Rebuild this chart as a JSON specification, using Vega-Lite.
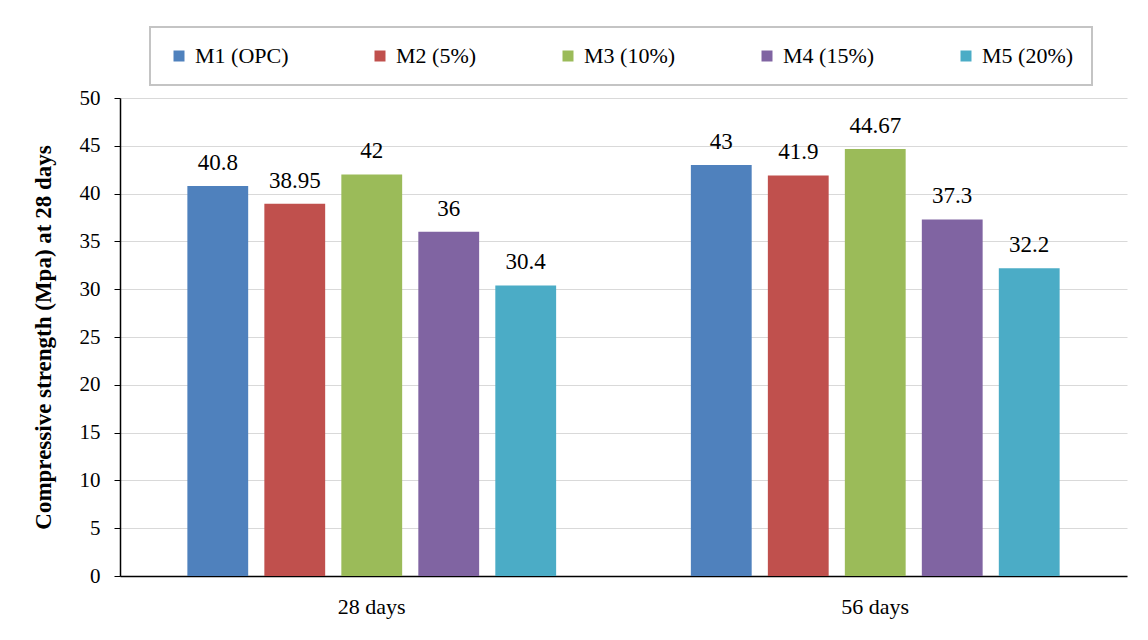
{
  "$schema": "https://vega.github.io/schema/vega-lite/v6.json",
  "width": 1007,
  "height": 478,
  "autosize": {"type": "none"},
  "padding": {"left": 120, "top": 98, "right": 21, "bottom": 64},
  "background": "white",
  "data": {
    "values": [
      {"age": "28 days", "mix": "M1 (OPC)", "value": 40.8},
      {"age": "28 days", "mix": "M2 (5%)", "value": 38.95},
      {"age": "28 days", "mix": "M3 (10%)", "value": 42},
      {"age": "28 days", "mix": "M4 (15%)", "value": 36},
      {"age": "28 days", "mix": "M5 (20%)", "value": 30.4},
      {"age": "56 days", "mix": "M1 (OPC)", "value": 43},
      {"age": "56 days", "mix": "M2 (5%)", "value": 41.9},
      {"age": "56 days", "mix": "M3 (10%)", "value": 44.67},
      {"age": "56 days", "mix": "M4 (15%)", "value": 37.3},
      {"age": "56 days", "mix": "M5 (20%)", "value": 32.2}
    ]
  },
  "encoding": {
    "x": {
      "field": "age", "type": "nominal",
      "scale": {"paddingInner": 0, "paddingOuter": 0},
      "axis": {"title": null, "labelAngle": 0, "ticks": false, "labelPadding": 20, "labelFontSize": 22, "labelFont": "Times New Roman", "domainColor": "#000000", "domainWidth": 1.5}
    },
    "xOffset": {
      "field": "mix", "type": "nominal",
      "scale": {"paddingInner": 0.21, "paddingOuter": 0.875}
    },
    "y": {
      "field": "value", "type": "quantitative",
      "scale": {"domain": [0, 50], "nice": false},
      "axis": {
        "title": "Compressive strength (Mpa) at 28 days",
        "values": [0, 5, 10, 15, 20, 25, 30, 35, 40, 45, 50],
        "labelFontSize": 21, "labelFont": "Times New Roman", "labelPadding": 14, "tickSize": 6,
        "tickColor": "#000000", "domainColor": "#000000", "domainWidth": 1.5,
        "grid": true, "gridColor": "#d9d9d9", "gridWidth": 1,
        "titleFontSize": 23, "titleFont": "Times New Roman", "titleFontWeight": "bold", "titlePadding": 24
      }
    }
  },
  "layer": [
    {
      "mark": {"type": "bar"},
      "encoding": {
        "color": {
          "field": "mix", "type": "nominal",
          "scale": {
            "domain": ["M1 (OPC)", "M2 (5%)", "M3 (10%)", "M4 (15%)", "M5 (20%)"],
            "range": ["#4F81BD", "#C0504D", "#9BBB59", "#8064A2", "#4BACC6"]
          },
          "legend": {
            "title": null,
            "orient": "none",
            "direction": "horizontal",
            "legendX": 30,
            "legendY": -71,
            "columns": 5,
            "columnPadding": 80,
            "padding": 18,
            "symbolType": "square",
            "symbolSize": 121,
            "symbolStrokeWidth": 0,
            "labelFontSize": 22,
            "labelFont": "Times New Roman",
            "labelOffset": 5,
            "labelColor": "#000000",
            "strokeColor": "#c4c4c4",
            "fillColor": "white"
          }
        }
      }
    },
    {
      "mark": {"type": "text", "dy": -16, "baseline": "alphabetic", "fontSize": 23, "font": "Times New Roman", "color": "#000000"},
      "encoding": {
        "text": {"field": "value", "type": "quantitative"}
      }
    }
  ],
  "config": {
    "font": "Times New Roman",
    "view": {"stroke": null},
    "axis": {"labelColor": "#000000", "titleColor": "#000000"},
    "legend": {"strokeWidth": 2}
  }
}
